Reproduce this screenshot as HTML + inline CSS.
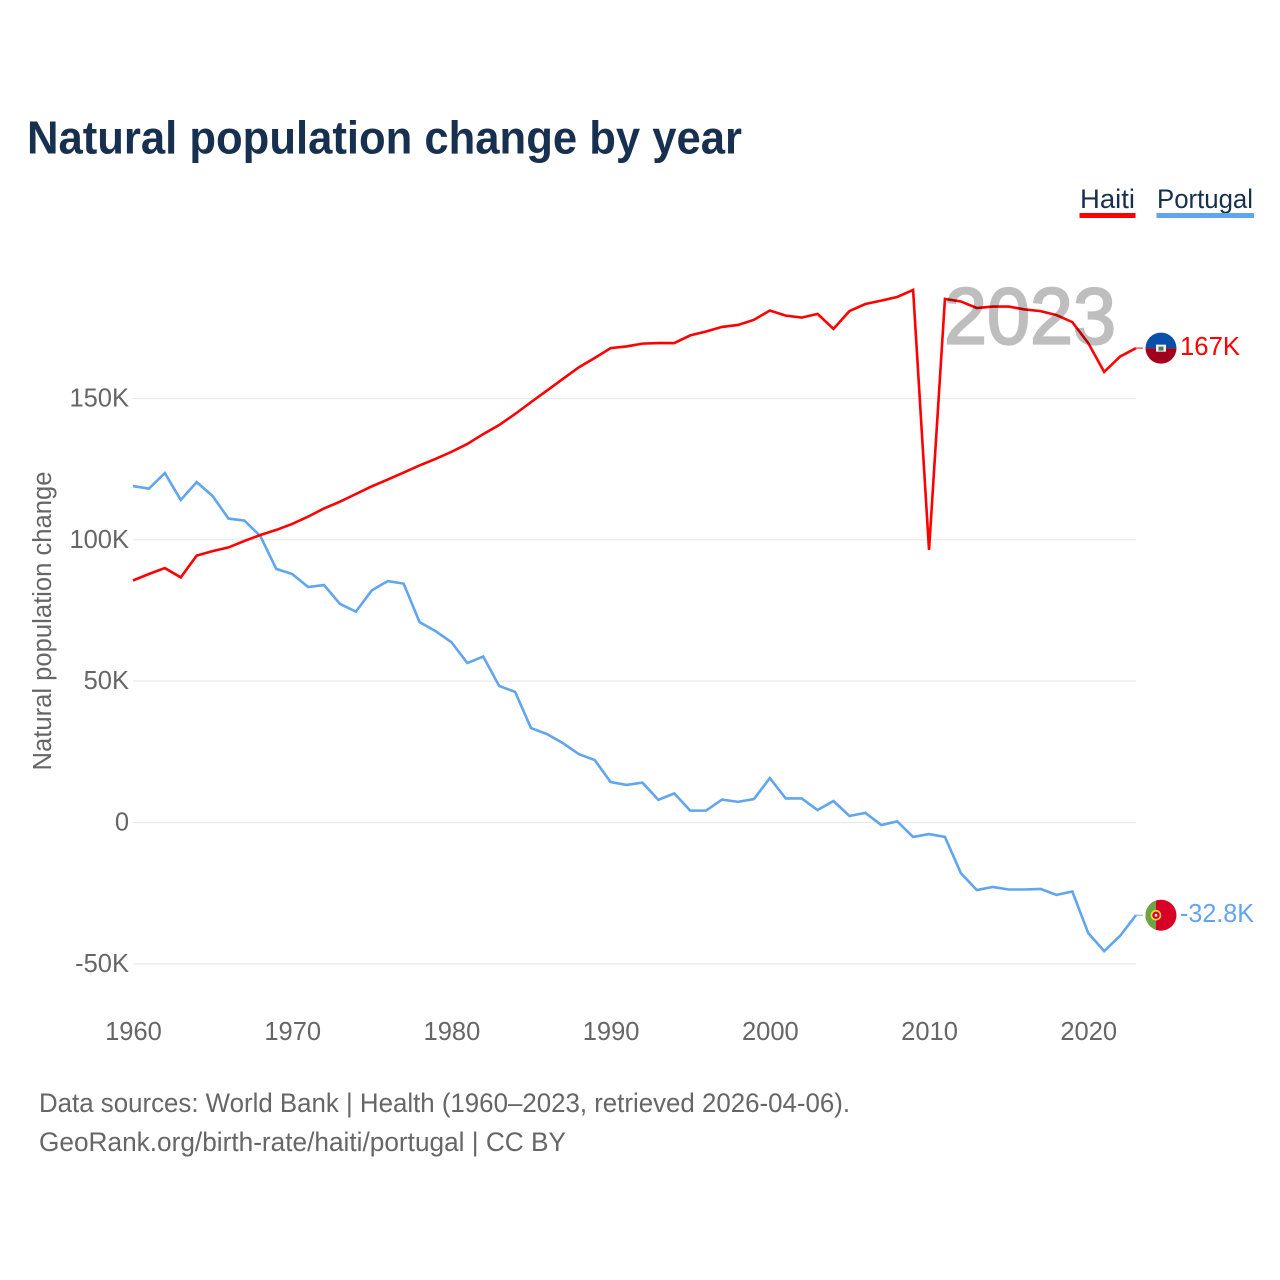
<!DOCTYPE html>
<html lang="en">
<head>
<meta charset="utf-8">
<title>Natural population change by year</title>
<style>
html,body{margin:0;padding:0;background:#fff;width:1280px;height:1280px;overflow:hidden}
svg{display:block;font-family:"Liberation Sans",sans-serif}
</style>
</head>
<body>
<svg id="chart" xmlns="http://www.w3.org/2000/svg" width="1280" height="1280" viewBox="0 0 1280 1280">
  <defs>
    <clipPath id="flag-clip-haiti"><circle cx="0" cy="0" r="15.5"></circle></clipPath>
    <clipPath id="flag-clip-portugal"><circle cx="0" cy="0" r="15.5"></circle></clipPath>
  </defs>
  <rect width="1280" height="1280" fill="#fff"></rect>
  <text x="27" y="153.5" font-size="46" font-weight="700" fill="#18304f" textLength="715" lengthAdjust="spacingAndGlyphs">Natural population change by year</text>

  <g style="cursor:pointer">
    <text x="1080" y="208" font-size="27" fill="#18304f" textLength="55" lengthAdjust="spacingAndGlyphs">Haiti</text>
    <rect x="1079.5" y="213" width="56" height="5" fill="#ff0000"></rect>
  </g>
  <g style="cursor:pointer">
    <text x="1157" y="208" font-size="27" fill="#18304f" textLength="96" lengthAdjust="spacingAndGlyphs">Portugal</text>
    <rect x="1156.5" y="213" width="97.5" height="5" fill="#60a5ee"></rect>
  </g>

  <text transform="translate(51 621) rotate(-90)" text-anchor="middle" font-size="25.5" fill="#666" textLength="299" lengthAdjust="spacingAndGlyphs">Natural population change</text>

  <g id="grid"></g>
  <g id="y-ticks"></g>
  <g id="x-ticks"></g>
  <g id="series"></g>

  <text id="year-label" x="1030" y="343.5" text-anchor="middle" font-size="80" font-weight="400" fill="#000" stroke="#000" stroke-width="2.2" opacity="0.25" textLength="172" lengthAdjust="spacingAndGlyphs">2023</text>

  <g id="end-haiti">
    <g clip-path="url(#flag-clip-haiti)">
      <rect x="-16" y="-16" width="32" height="16" fill="#0a50a8"></rect>
      <rect x="-16" y="0" width="32" height="16" fill="#a2001d"></rect>
      <rect x="-5" y="-3.5" width="10" height="7" fill="#f4f4f4"></rect>
      <rect x="-2.5" y="-1.5" width="5" height="4" fill="#4c7a55"></rect>
    </g>
  </g>
  <g id="end-portugal">
    <g clip-path="url(#flag-clip-portugal)">
      <rect x="-16" y="-16" width="32" height="32" fill="#d80027"></rect>
      <rect x="-16" y="-16" width="11" height="32" fill="#6da544"></rect>
      <circle cx="-5" cy="0" r="4.5" fill="#d80027" stroke="#ffda44" stroke-width="1.6"></circle>
      <rect x="-6.2" y="-1.3" width="2.4" height="2.6" fill="#f0f0f0"></rect>
    </g>
  </g>
  <g id="end-labels"></g>

  <text x="39" y="1112" font-size="26.5" fill="#666" textLength="811" lengthAdjust="spacingAndGlyphs">Data sources: World Bank | Health (1960–2023, retrieved 2026-04-06).</text>
  <text x="39" y="1151" font-size="26.5" fill="#666" textLength="527" lengthAdjust="spacingAndGlyphs">GeoRank.org/birth-rate/haiti/portugal | CC BY</text>
</svg>
<script>
const years = [1960,1961,1962,1963,1964,1965,1966,1967,1968,1969,1970,1971,1972,1973,1974,1975,1976,1977,1978,1979,1980,1981,1982,1983,1984,1985,1986,1987,1988,1989,1990,1991,1992,1993,1994,1995,1996,1997,1998,1999,2000,2001,2002,2003,2004,2005,2006,2007,2008,2009,2010,2011,2012,2013,2014,2015,2016,2017,2018,2019,2020,2021,2022,2023];
const haitiValues = [85.6,87.9,90.0,86.7,94.4,96.0,97.3,99.6,101.7,103.5,105.6,108.2,111.1,113.5,116.2,118.9,121.3,123.8,126.3,128.6,131.1,133.9,137.4,140.6,144.5,148.7,152.8,156.9,161.0,164.3,167.8,168.4,169.4,169.6,169.6,172.3,173.7,175.3,176.0,177.8,181.1,179.3,178.6,179.9,174.6,180.9,183.4,184.6,185.9,188.4,96.4,185.2,184.3,182.0,182.5,182.5,181.5,180.9,179.5,177.0,169.6,159.4,164.8,167.8];
const portugalValues = [119.0,118.1,123.6,114.1,120.4,115.5,107.5,106.8,101.3,89.7,87.9,83.3,84.0,77.3,74.6,82.1,85.4,84.5,70.9,67.7,63.8,56.4,58.7,48.3,46.2,33.4,31.3,28.1,24.2,22.1,14.3,13.3,14.1,8.0,10.3,4.2,4.2,8.1,7.3,8.3,15.7,8.5,8.5,4.4,7.6,2.3,3.4,-0.9,0.4,-5.1,-4.1,-5.1,-17.9,-23.9,-22.8,-23.7,-23.7,-23.5,-25.6,-24.4,-39.1,-45.5,-40.1,-32.8];
const yTickValues = [-50,0,50,100,150];
const yTickLabels = ["-50K","0","50K","100K","150K"];
const xTickValues = [1960,1970,1980,1990,2000,2010,2020];
const haitiEndLabel = "167K";
const portugalEndLabel = "-32.8K";

const NS = "http://www.w3.org/2000/svg";
const plotLeft = 133, plotRight = 1136, zeroY = 822.5, pxPerK = 2.827;
function xScale(year) {
  return plotLeft + (year - years[0]) * (plotRight - plotLeft) / (years[years.length - 1] - years[0]);
}
function yScale(value) {
  return zeroY - value * pxPerK;
}
function make(tag, parent, props) {
  const el = document.createElementNS(NS, tag);
  for (const k in props) el.setAttribute(k, props[k]);
  parent.appendChild(el);
  return el;
}
const gridG = document.getElementById("grid");
const yG = document.getElementById("y-ticks");
const xG = document.getElementById("x-ticks");
const seriesG = document.getElementById("series");
const labelsG = document.getElementById("end-labels");

yTickValues.forEach(function (v, i) {
  const line = make("line", gridG, {x1: plotLeft, x2: plotRight, y1: yScale(v), y2: yScale(v), stroke: "#e9e9e9", "stroke-width": 1.2});
  
  
  const t = make("text", yG, {x: 129, y: yScale(v) + 8, "text-anchor": "end", "font-size": 25.5, fill: "#666"});
  
  
  t.textContent = yTickLabels[i];
});
xTickValues.forEach(function (yr) {
  const t = make("text", xG, {x: xScale(yr) + 0.5, y: 1040, "text-anchor": "middle", "font-size": 25.5, fill: "#666"});
  
  
  t.textContent = yr;
});

function pointsFor(values) {
  return values.map(function (v, i) { return xScale(years[i]).toFixed(2) + "," + yScale(v).toFixed(2); }).join(" ");
}
const portugalLine = make("polyline", seriesG, {points: pointsFor(portugalValues), fill: "none", stroke: "#60a5ee", "stroke-width": 2.6, "stroke-linejoin": "miter"});


const haitiLine = make("polyline", seriesG, {points: pointsFor(haitiValues), fill: "none", stroke: "#ff0000", "stroke-width": 2.6, "stroke-linejoin": "miter"});



const haitiLastY = yScale(haitiValues[haitiValues.length - 1]);
const portugalLastY = yScale(portugalValues[portugalValues.length - 1]);

const haitiConnector = make("line", seriesG, {x1: plotRight, x2: 1143, y1: haitiLastY, y2: haitiLastY, stroke: "#ff0000", "stroke-width": 1.2, "stroke-opacity": 0.8});


const portugalConnector = make("line", seriesG, {x1: plotRight, x2: 1143, y1: portugalLastY, y2: portugalLastY, stroke: "#60a5ee", "stroke-width": 1.2, "stroke-opacity": 0.8});



document.getElementById("end-haiti").setAttribute("transform", "translate(1161 " + haitiLastY + ")");
document.getElementById("end-portugal").setAttribute("transform", "translate(1161 " + portugalLastY + ")");

const haitiText = make("text", labelsG, {x: 1180, y: haitiLastY + 6.7, "font-size": 25.5, fill: "#ff0000", textLength: 60, lengthAdjust: "spacingAndGlyphs"});


haitiText.textContent = haitiEndLabel;
const portugalText = make("text", labelsG, {x: 1180, y: portugalLastY + 6.7, "font-size": 25.5, fill: "#60a5ee", textLength: 74, lengthAdjust: "spacingAndGlyphs"});


portugalText.textContent = portugalEndLabel;
</script>
</body>
</html>
